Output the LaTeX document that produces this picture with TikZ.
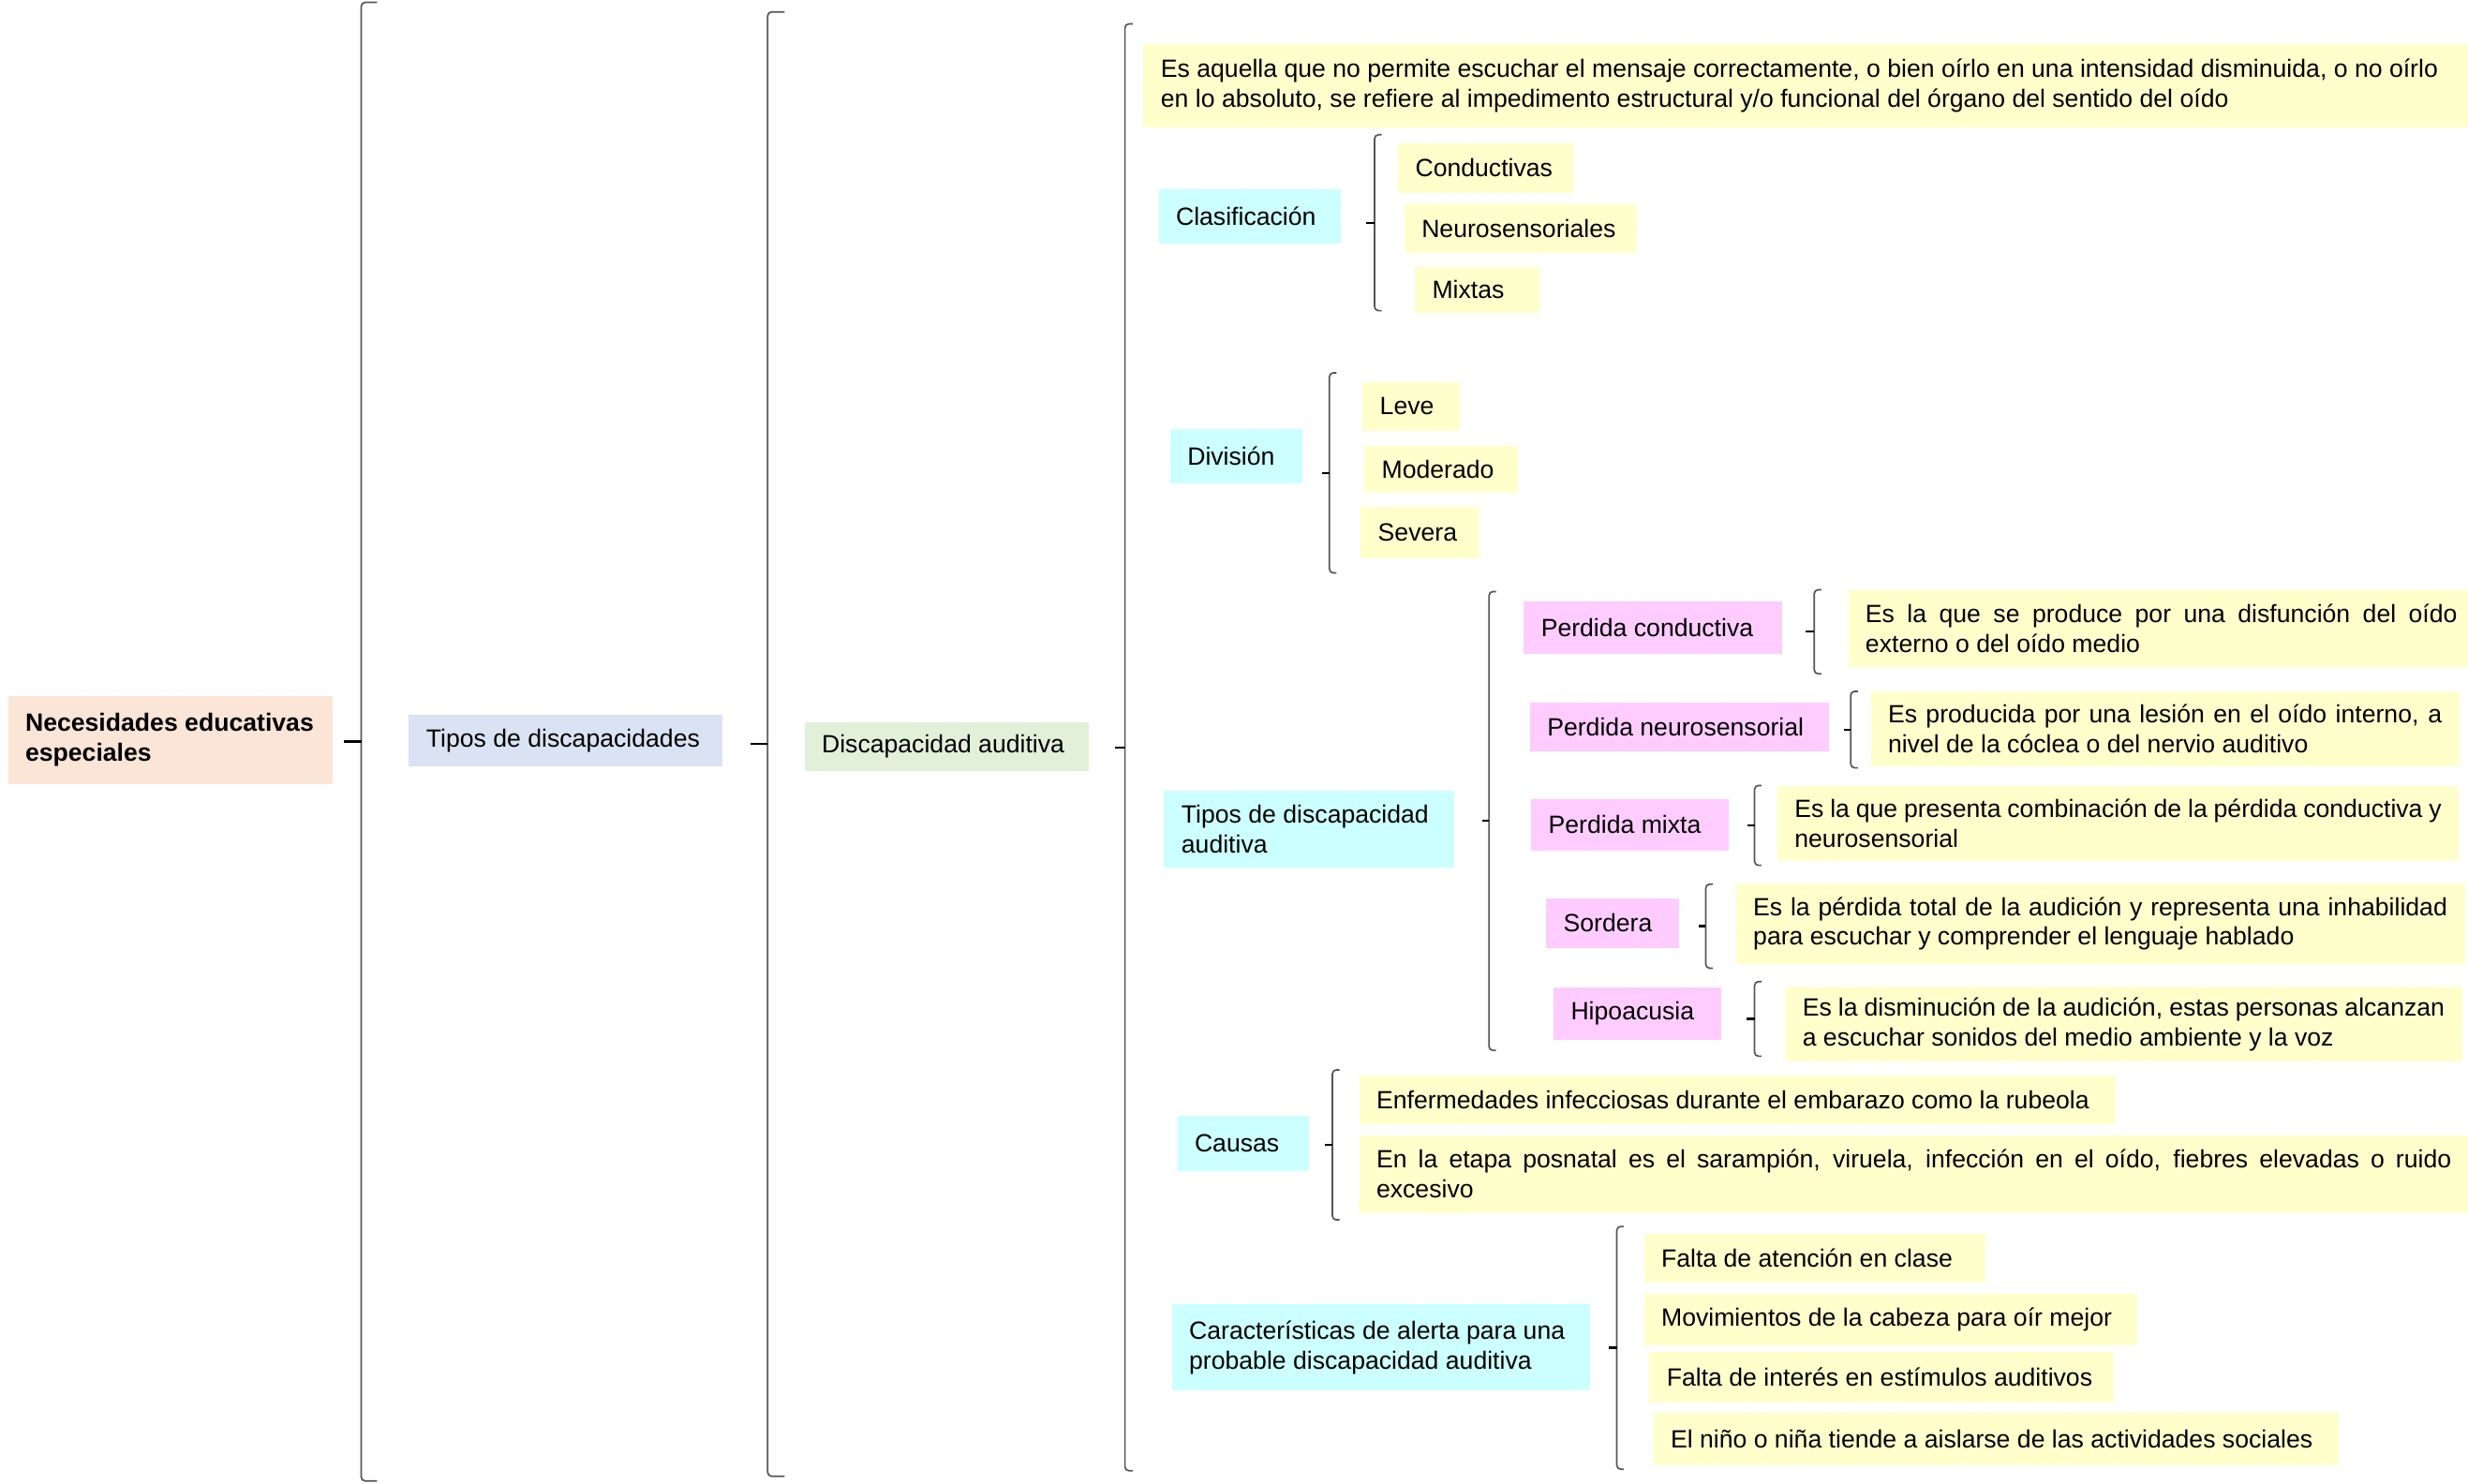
\documentclass[tikz,border=0pt]{standalone}
\usepackage{fontspec}
\setmainfont{Liberation Sans}
\usetikzlibrary{calc}
\definecolor{peach}{HTML}{FBE5D6}
\definecolor{lblue}{HTML}{DAE3F3}
\definecolor{lgreen}{HTML}{E2F0D9}
\definecolor{lcyan}{HTML}{CCFFFF}
\definecolor{lyellow}{HTML}{FFFFCC}
\definecolor{lpink}{HTML}{FFCCFF}
\definecolor{bracketgray}{HTML}{555555}
\tikzset{
  box/.style={anchor=north west, inner xsep=11pt, inner ysep=0pt, align=justify},
  bracket/.style={draw=bracketgray, line width=1pt, rounded corners=2.5pt},
  tick/.style={draw=black, line width=1.4pt},
}

\begin{document}
\begin{tikzpicture}[x=1pt, y=-1pt, font=\fontsize{15.85}{19}\selectfont]
    \useasboundingbox (0,0) rectangle (1568,942.4);
    % first levels
    \node[box, fill=peach, text width=184.4pt, minimum height=56.1pt, font=\fontsize{15.85}{19}\selectfont\bfseries] (root) at (4.9,441.9) {Necesidades educativas\\especiales};
    \node[box, fill=lblue, text width=177.4pt, minimum height=32.5pt] (tipos) at (259.6,454) {Tipos de discapacidades};
    \node[box, fill=lgreen, text width=158.6pt, minimum height=31.4pt] (disc) at (510.9,458.6) {Discapacidad auditiva};
    % definition
    \node[box, fill=lyellow, text width=830pt, minimum height=53.1pt] (defin) at (726.3,27.6) {Es aquella que no permite escuchar el mensaje correctamente, o bien oírlo en una intensidad disminuida, o no oírlo\\en lo absoluto, se refiere al impedimento estructural y/o funcional del órgano del sentido del oído};
    % clasificacion
    \node[box, fill=lcyan, text width=94pt, minimum height=34.3pt] (clasif) at (735.9,120.2) {Clasificación};
    \node[box, fill=lyellow, text width=89.5pt, minimum height=31.8pt] (conduc) at (888,90.6) {Conductivas};
    \node[box, fill=lyellow, text width=126pt, minimum height=30.9pt] (neuro) at (892,129.8) {Neurosensoriales};
    \node[box, fill=lyellow, text width=57.4pt, minimum height=29.4pt] (mixtas) at (898.7,169.3) {Mixtas};
    % division
    \node[box, fill=lcyan, text width=61.9pt, minimum height=34.3pt] (division) at (743.2,272.7) {División};
    \node[box, fill=lyellow, text width=39.9pt, minimum height=30.9pt] (leve) at (865.5,242.6) {Leve};
    \node[box, fill=lyellow, text width=75.4pt, minimum height=29.9pt] (moder) at (866.6,283.3) {Moderado};
    \node[box, fill=lyellow, text width=53.5pt, minimum height=33pt] (severa) at (864.3,321.6) {Severa};
    % tipos de discapacidad auditiva
    \node[box, fill=lcyan, text width=162.5pt, minimum height=49.1pt] (tda) at (739.4,502) {Tipos de discapacidad\\auditiva};
    \node[box, fill=lpink, text width=142pt, minimum height=32.9pt] (pc) at (967.9,382.2) {Perdida conductiva};
    \node[box, fill=lyellow, text width=376pt, minimum height=48.5pt] (pcdef) at (1174,375.1) {\makebox[376pt][s]{Es la que se produce por una disfunción del oído}\\externo o del oído medio};
    \node[box, fill=lpink, text width=168.2pt, minimum height=30.6pt] (pn) at (971.8,446.4) {Perdida neurosensorial};
    \node[box, fill=lyellow, text width=352pt, minimum height=47.4pt] (pndef) at (1188.3,439.3) {\makebox[352pt][s]{Es producida por una lesión en el oído interno, a}\\nivel de la cóclea o del nervio auditivo};
    \node[box, fill=lpink, text width=103.7pt, minimum height=32.8pt] (pm) at (972.6,507.3) {Perdida mixta};
    \node[box, fill=lyellow, text width=411pt, minimum height=47.7pt] (pmdef) at (1129,499.1) {\makebox[411pt][s]{Es la que presenta combinación de la pérdida conductiva y}\\neurosensorial};
    \node[box, fill=lpink, text width=62.4pt, minimum height=31.7pt] (sord) at (982.1,570.4) {Sordera};
    \node[box, fill=lyellow, text width=441pt, minimum height=51.5pt] (sorddef) at (1102.7,561) {\makebox[441pt][s]{Es la pérdida total de la audición y representa una inhabilidad}\\para escuchar y comprender el lenguaje hablado};
    \node[box, fill=lpink, text width=84.8pt, minimum height=32.8pt] (hipo) at (986.8,627.5) {Hipoacusia};
    \node[box, fill=lyellow, text width=408pt, minimum height=47.8pt] (hipodef) at (1134,626.7) {\makebox[408pt][s]{Es la disminución de la audición, estas personas alcanzan}\\a escuchar sonidos del medio ambiente y la voz};
    % causas
    \node[box, fill=lcyan, text width=61.4pt, minimum height=34.8pt] (causas) at (747.8,708.9) {Causas};
    \node[box, fill=lyellow, text width=458.4pt, minimum height=31.3pt] (enferm) at (863.3,683.1) {Enfermedades infecciosas durante el embarazo como la rubeola};
    \node[box, fill=lyellow, text width=683pt, minimum height=49.3pt] (etapa) at (863.3,721.2) {\makebox[683pt][s]{En la etapa posnatal es el sarampión, viruela, infección en el oído, fiebres elevadas o ruido}\\excesivo};
    % caracteristicas
    \node[box, fill=lcyan, text width=243.6pt, minimum height=55pt] (caract) at (744.3,828.4) {Características de alerta para una\\probable discapacidad auditiva};
    \node[box, fill=lyellow, text width=194.8pt, minimum height=31.4pt] (falta1) at (1044.3,783.5) {Falta de atención en clase};
    \node[box, fill=lyellow, text width=291.2pt, minimum height=33.2pt] (movim) at (1044.3,821.6) {Movimientos de la cabeza para oír mejor};
    \node[box, fill=lyellow, text width=273.1pt, minimum height=32.5pt] (falta2) at (1047.7,858.5) {Falta de interés en estímulos auditivos};
    \node[box, fill=lyellow, text width=413.6pt, minimum height=33.2pt] (nino) at (1050.2,897.4) {El niño o niña tiende a aislarse de las actividades sociales};

    % brackets
    \coordinate (b1t) at (229.5,1.5);   \coordinate (b1b) at (229.5,941);
    \coordinate (b2t) at (487.7,7.6);   \coordinate (b2b) at (487.7,938);
    \coordinate (b3t) at (714.7,15.2);  \coordinate (b3b) at (714.7,934.5);
    \coordinate (bclt) at (873.3,85.6); \coordinate (bclb) at (873.3,197.4);
    \coordinate (bdvt) at (844.6,236.9); \coordinate (bdvb) at (844.6,364);
    \coordinate (btdt) at (946,375.9);  \coordinate (btdb) at (946,667.4);
    \coordinate (bpct) at (1152.6,374.7); \coordinate (bpcb) at (1152.6,428.1);
    \coordinate (bpnt) at (1175.8,439.3); \coordinate (bpnb) at (1175.8,487.9);
    \coordinate (bpmt) at (1114.7,499.1); \coordinate (bpmb) at (1114.7,549.8);
    \coordinate (bsdt) at (1083.7,561.8); \coordinate (bsdb) at (1083.7,615.2);
    \coordinate (bhpt) at (1114.7,623.7); \coordinate (bhpb) at (1114.7,671.1);
    \coordinate (bcst) at (846.5,679.8); \coordinate (bcsb) at (846.5,775.1);
    \coordinate (bcht) at (1027.2,779.3); \coordinate (bchb) at (1027.2,933.5);

    \draw[bracket] ([xshift=10pt]b1t) -- (b1t) -- (b1b) -- ([xshift=10pt]b1b);
    \draw[tick] ($(b1t)!.5!(b1b)$) -- ++(-10.8,0);
    \draw[bracket] ([xshift=10.8pt]b2t) -- (b2t) -- (b2b) -- ([xshift=10.8pt]b2b);
    \draw[tick] ($(b2t)!.5!(b2b)$) -- ++(-10.9,0);
    \draw[bracket] ([xshift=5pt]b3t) -- (b3t) -- (b3b) -- ([xshift=5pt]b3b);
    \draw[tick] ($(b3t)!.5!(b3b)$) -- ++(-6.4,0);
    \draw[bracket] ([xshift=4.5pt]bclt) -- (bclt) -- (bclb) -- ([xshift=4.5pt]bclb);
    \draw[tick] ($(bclt)!.5!(bclb)$) -- ++(-5.6,0);
    \draw[bracket] ([xshift=4.5pt]bdvt) -- (bdvt) -- (bdvb) -- ([xshift=4.5pt]bdvb);
    \draw[tick] ($(bdvt)!.5!(bdvb)$) -- ++(-4.5,0);
    \draw[bracket] ([xshift=4.5pt]btdt) -- (btdt) -- (btdb) -- ([xshift=4.5pt]btdb);
    \draw[tick] ($(btdt)!.5!(btdb)$) -- ++(-4.5,0);
    \draw[bracket] ([xshift=4.5pt]bpct) -- (bpct) -- (bpcb) -- ([xshift=4.5pt]bpcb);
    \draw[tick] ($(bpct)!.5!(bpcb)$) -- ++(-5.6,0);
    \draw[bracket] ([xshift=4.5pt]bpnt) -- (bpnt) -- (bpnb) -- ([xshift=4.5pt]bpnb);
    \draw[tick] ($(bpnt)!.5!(bpnb)$) -- ++(-4.5,0);
    \draw[bracket] ([xshift=4.5pt]bpmt) -- (bpmt) -- (bpmb) -- ([xshift=4.5pt]bpmb);
    \draw[tick] ($(bpmt)!.5!(bpmb)$) -- ++(-4.5,0);
    \draw[bracket] ([xshift=4.5pt]bsdt) -- (bsdt) -- (bsdb) -- ([xshift=4.5pt]bsdb);
    \draw[tick] ($(bsdt)!.5!(bsdb)$) -- ++(-4.5,0);
    \draw[bracket] ([xshift=4.5pt]bhpt) -- (bhpt) -- (bhpb) -- ([xshift=4.5pt]bhpb);
    \draw[tick] ($(bhpt)!.5!(bhpb)$) -- ++(-5.2,0);
    \draw[bracket] ([xshift=4.5pt]bcst) -- (bcst) -- (bcsb) -- ([xshift=4.5pt]bcsb);
    \draw[tick] ($(bcst)!.5!(bcsb)$) -- ++(-5,0);
    \draw[bracket] ([xshift=4.5pt]bcht) -- (bcht) -- (bchb) -- ([xshift=4.5pt]bchb);
    \draw[tick] ($(bcht)!.5!(bchb)$) -- ++(-5.2,0);
\end{tikzpicture}
\end{document}
